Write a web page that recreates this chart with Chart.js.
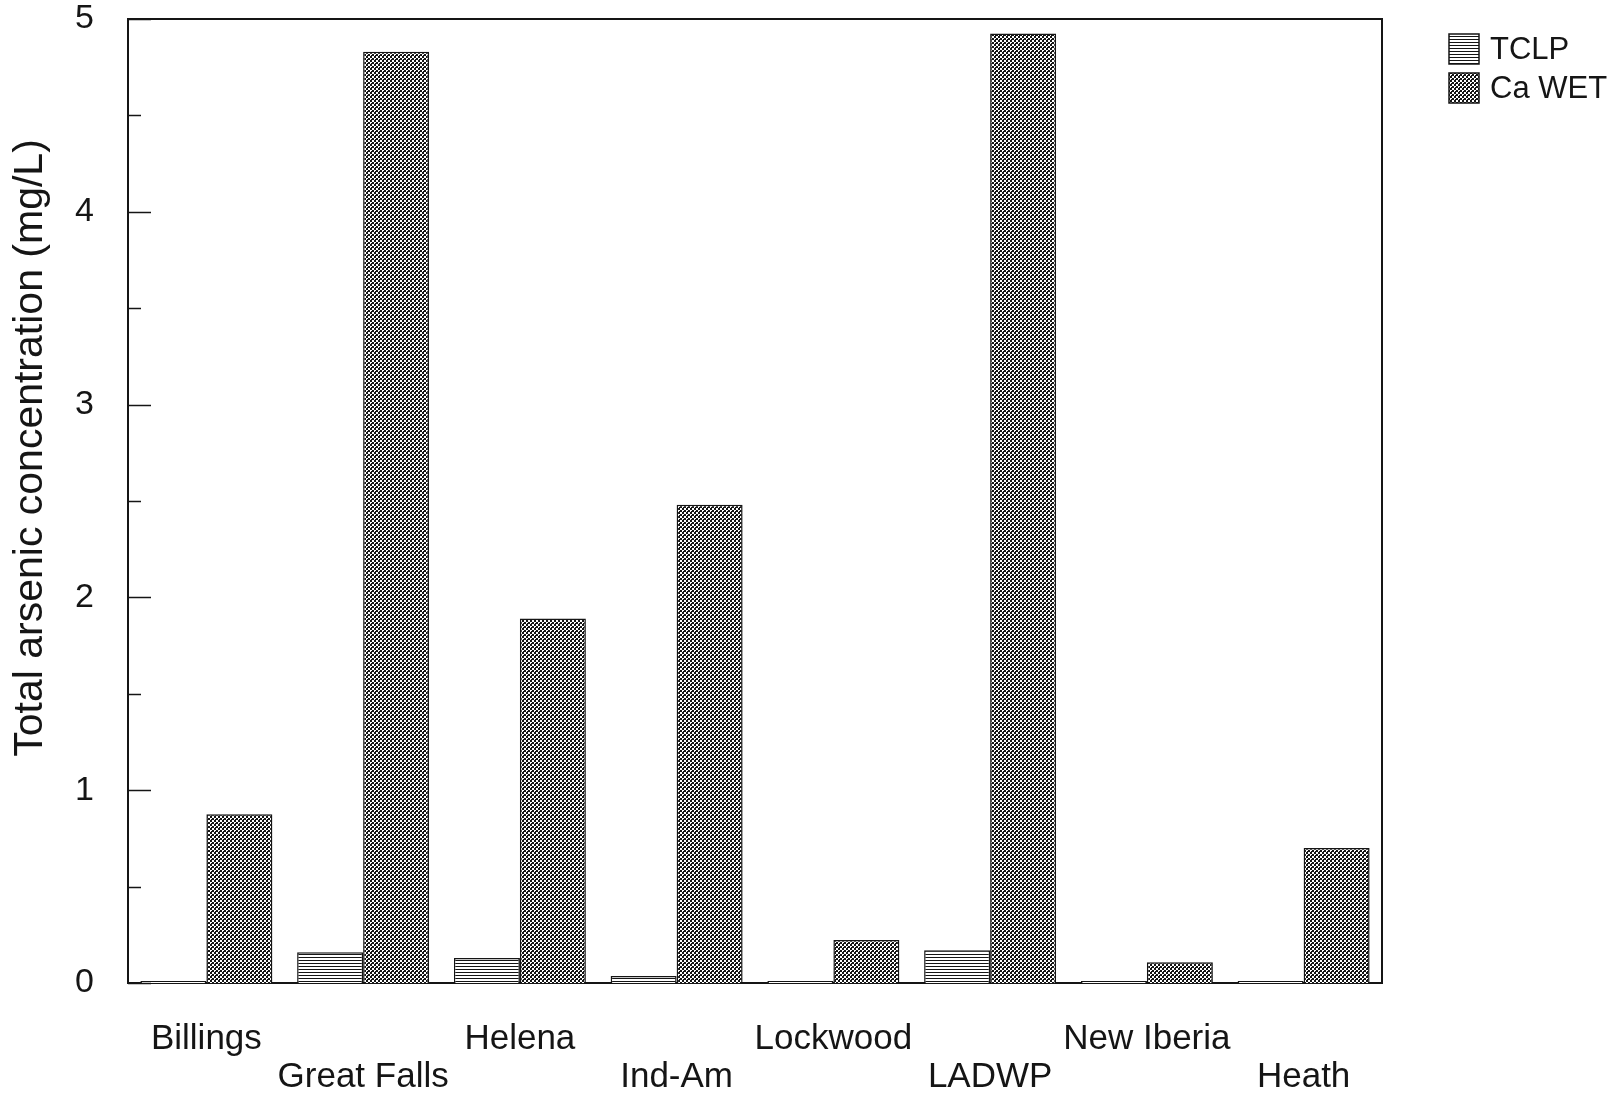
<!DOCTYPE html>
<html>
<head>
<meta charset="utf-8">
<script src="https://cdn.jsdelivr.net/npm/chart.js@4"></script>
<style>
  html, body { margin: 0; padding: 0; background: #fff; }
  #wrap { width: 1623px; height: 1094px; position: relative; }
</style>
</head>
<body>
<div id="wrap"><canvas id="c" width="1623" height="1094"></canvas></div>
<script>
// Leachate results per site (mg/L)
const sites = ['Billings', 'Great Falls', 'Helena', 'Ind-Am', 'Lockwood', 'LADWP', 'New Iberia', 'Heath'];
const tclp = [0.01, 0.16, 0.13, 0.036, 0.01, 0.17, 0.01, 0.01];
const caWet = [0.875, 4.83, 1.89, 2.48, 0.223, 4.925, 0.107, 0.70];
const seriesNames = ['TCLP', 'Ca WET'];
const yMin = 0, yMax = 5, yStep = 1, yMinorStep = 0.5;
const yTitle = 'Total arsenic concentration (mg/L)';

const FONT = '"Liberation Sans", Arial, Helvetica, sans-serif';
const INK = '#151515';

// Horizontal line fill
function linePattern() {
  const c = document.createElement('canvas');
  c.width = 3; c.height = 3;
  const g = c.getContext('2d');
  g.fillStyle = '#fff'; g.fillRect(0, 0, 3, 3);
  g.fillStyle = INK; g.fillRect(0, 0, 3, 1);
  return g.createPattern(c, 'repeat');
}
// Dense checker / cross-hatch fill
function checkPattern() {
  const c = document.createElement('canvas');
  c.width = 4; c.height = 4;
  const g = c.getContext('2d');
  g.fillStyle = INK; g.fillRect(0, 0, 4, 4);
  g.fillStyle = '#fff';
  g.fillRect(0, 0, 2, 2);
  g.fillRect(2, 2, 2, 1); g.fillRect(2, 3, 1, 1);
  return g.createPattern(c, 'repeat');
}

const framePlugin = {
  id: 'frame',
  afterDraw(chart) {
    const ctx = chart.ctx;
    const a = chart.chartArea;
    const y = chart.scales.y;
    ctx.save();
    // top and right edges of the plot box
    ctx.strokeStyle = INK;
    ctx.lineWidth = 2;
    ctx.beginPath();
    ctx.moveTo(a.left, a.top); ctx.lineTo(a.right, a.top); ctx.lineTo(a.right, a.bottom);
    ctx.stroke();
    // inward ticks on the value axis
    ctx.lineWidth = 1.5;
    for (let v = yMin; v <= yMax + 1e-9; v += yMinorStep) {
      const py = Math.round(y.getPixelForValue(v)) + 0.5;
      const major = Math.abs(v - Math.round(v)) < 1e-9;
      const len = major ? 23 : 13;
      ctx.beginPath();
      ctx.moveTo(a.left, py); ctx.lineTo(a.left + len, py);
      ctx.stroke();
    }
    // value-axis title
    ctx.fillStyle = INK;
    ctx.font = '41px ' + FONT;
    ctx.textAlign = 'center';
    ctx.textBaseline = 'middle';
    ctx.translate(31, 448);
    ctx.rotate(-Math.PI / 2);
    ctx.fillText(yTitle, 0, 0);
    ctx.restore();

    // legend
    ctx.save();
    const bx = 1449, by = 34, bw = 30, bh = 30, gap = 39;
    chart.data.datasets.forEach((ds, i) => {
      const top = by + gap * i;
      ctx.fillStyle = ds.backgroundColor;
      ctx.fillRect(bx, top, bw, bh);
      ctx.strokeStyle = INK;
      ctx.lineWidth = 1.5;
      ctx.strokeRect(bx, top, bw, bh);
      ctx.fillStyle = INK;
      ctx.font = '31px ' + FONT;
      ctx.textAlign = 'left';
      ctx.textBaseline = 'middle';
      ctx.fillText(ds.label, bx + 41, top + bh / 2 + 1);
    });
    ctx.restore();
  }
};

new Chart(document.getElementById('c'), {
  type: 'bar',
  data: {
    labels: sites,
    datasets: [
      { label: seriesNames[0], data: tclp, backgroundColor: linePattern(), borderColor: INK, borderWidth: 1.5 },
      { label: seriesNames[1], data: caWet, backgroundColor: checkPattern(), borderColor: INK, borderWidth: 1.5 }
    ]
  },
  options: {
    responsive: false,
    animation: false,
    devicePixelRatio: 1,
    layout: { padding: { top: 19, right: 241, left: 0, bottom: 0 } },
    datasets: { bar: { categoryPercentage: 0.842, barPercentage: 1.0 } },
    plugins: { legend: { display: false }, tooltip: { enabled: false } },
    scales: {
      x: {
        grid: { display: false, drawTicks: false },
        border: { display: true, color: INK, width: 2 },
        ticks: {
          color: INK,
          font: { family: FONT, size: 35, lineHeight: 1.1 },
          padding: 37,
          maxRotation: 0,
          autoSkip: false,
          callback: (v, i) => (i % 2 === 0 ? [sites[i], ''] : ['', sites[i]])
        },
        afterFit: s => { s.height = 111; s.paddingLeft = 0; s.paddingRight = 0; }
      },
      y: {
        min: yMin, max: yMax,
        grid: { display: false, drawTicks: false },
        border: { display: true, color: INK, width: 2 },
        ticks: { stepSize: yStep, color: INK, font: { family: FONT, size: 34 }, padding: 34 },
        afterFit: s => { s.width = 128; s.paddingTop = 0; s.paddingBottom = 0; }
      }
    }
  },
  plugins: [framePlugin]
});
</script>
</body>
</html>
